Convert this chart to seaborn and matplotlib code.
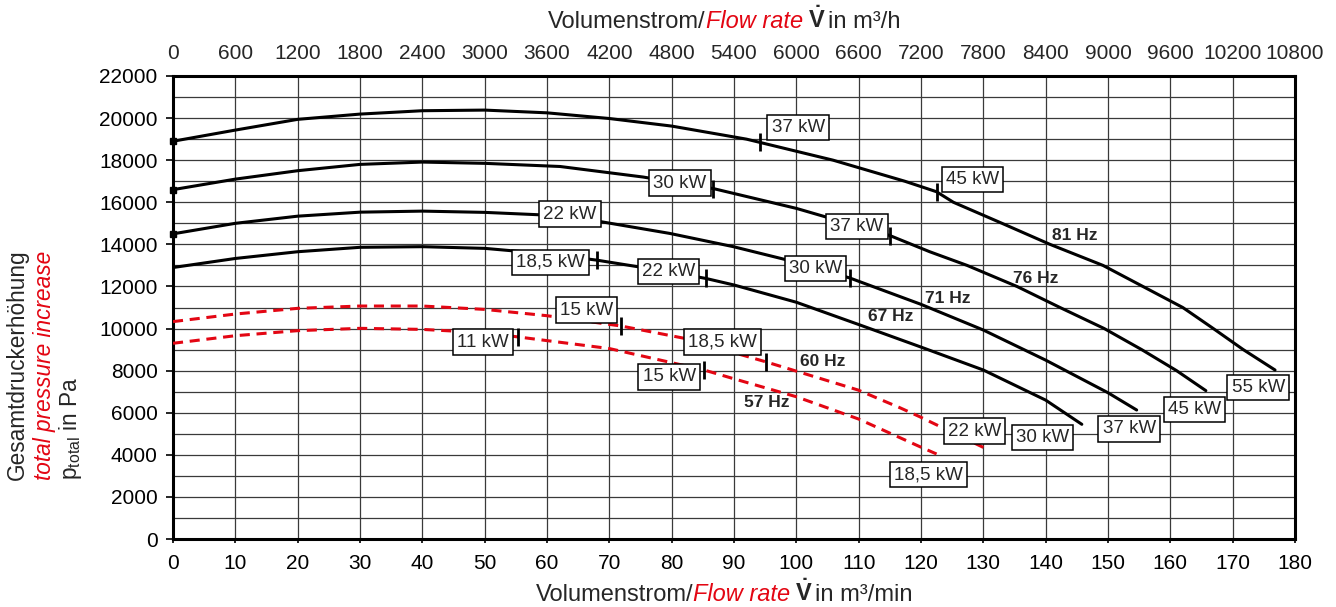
import numpy as np
import matplotlib
matplotlib.use('Agg')  # headless
import matplotlib.pyplot as plt
import seaborn as sns

RED = '#e30613'

# Kennlinien (x: Volumenstrom m3/min, y: Gesamtdruck Pa)
hz81_x = [0, 10, 20, 30, 40, 50, 60, 70, 80, 92, 105.9, 117.4, 122.5, 125.2, 133, 140.7,
          149.2, 155.6, 162, 166.9, 171.7, 176.8]
hz81_y = [18900, 19430, 19940, 20190, 20350, 20380, 20250, 19980, 19620, 19000, 18000, 17000,
          16500, 16000, 15000, 14000, 13000, 12000, 11000, 10000, 9000, 8030]

hz76_x = [0, 10, 20, 30, 40, 50, 62.1, 75.4, 86.7, 100, 115, 121.4, 127.4, 135.4, 142.3,
          149.4, 155.4, 161, 165.7]
hz76_y = [16600, 17100, 17500, 17800, 17910, 17850, 17700, 17200, 16650, 15710, 14420, 13650,
          13000, 12000, 11000, 10000, 9000, 8000, 7050]

hz71_x = [0, 10, 20, 30, 40, 50, 60, 68.8, 79.7, 89.9, 100, 108.6, 120, 130, 140, 150, 154.6]
hz71_y = [14500, 15000, 15340, 15530, 15580, 15520, 15390, 15070, 14520, 13890, 13150, 12400,
          11150, 9930, 8500, 6950, 6130]

hz67_x = [0, 10, 20, 30, 40, 50, 60, 68, 80, 85.5, 90, 100, 110.2, 120, 130, 140, 145.8]
hz67_y = [12900, 13330, 13650, 13860, 13890, 13810, 13550, 13250, 12680, 12380, 12070, 11250,
          10170, 9120, 8030, 6600, 5450]

hz60_x = [0, 10, 20, 30, 40, 50, 60, 71.9, 81.8, 95.1, 109.9, 116.6, 119.8, 130.3]
hz60_y = [10330, 10690, 10960, 11070, 11070, 10910, 10610, 10120, 9550, 8420, 7080, 6240,
          5810, 4310]

hz57_x = [0, 10, 20, 30, 40, 50, 55.4, 70, 85.2, 89.8, 100, 110, 119.8, 122.5]
hz57_y = [9300, 9660, 9900, 10010, 9960, 9800, 9600, 9050, 8030, 7630, 6760, 5700, 4390, 4040]

# motor power change points on each curve (x only)
ticks81 = [94.2, 122.5]
ticks76 = [86.7, 115]
ticks71 = [108.6]
ticks67 = [68, 85.5]
ticks60 = [71.9, 95.1]
ticks57 = [55.4, 85.2]

# power boxes: text, x, y (centre)
power_labels = [
    ("37 kW", 100.3, 19550), ("45 kW", 128.3, 17080), ("55 kW", 174.1, 7200),
    ("30 kW", 81.3, 16910), ("37 kW", 109.7, 14840), ("45 kW", 163.9, 6170),
    ("22 kW", 63.7, 15440), ("30 kW", 103.1, 12870), ("37 kW", 153.4, 5230),
    ("18,5 kW", 60.6, 13150), ("22 kW", 79.5, 12700), ("30 kW", 139.5, 4810),
    ("15 kW", 66.3, 10880), ("18,5 kW", 88.1, 9360), ("22 kW", 128.6, 5130),
    ("11 kW", 49.7, 9360), ("15 kW", 79.6, 7700), ("18,5 kW", 121.2, 3060),
]
# frequency labels
hz_labels = [
    ("81 Hz", 144.6, 14440), ("76 Hz", 138.4, 12380), ("71 Hz", 124.3, 11430),
    ("67 Hz", 115.2, 10560), ("60 Hz", 104.3, 8420), ("57 Hz", 95.3, 6510),
]

x_ticks = list(range(0, 181, 10))
y_ticks = list(range(0, 22001, 2000))
top_ticks = list(range(0, 10801, 600))

sns.set_theme(style='white')
plt.rcParams['font.family'] = ['Liberation Sans', 'DejaVu Sans']
plt.rcParams['mathtext.fontset'] = 'custom'
plt.rcParams['mathtext.rm'] = 'Liberation Sans'
plt.rcParams['mathtext.bf'] = 'Liberation Sans:bold'
plt.rcParams['mathtext.it'] = 'Liberation Sans:italic'

FS = 15
FS_TITLE = 17
FS_YLAB = 16.3
fig = plt.figure(figsize=(13.36, 6.07), dpi=100)
ax = fig.add_axes([0.1295, 0.112, 0.8398, 0.7628])

curves = [
    (hz81_x, hz81_y, ticks81, 'black', '-', True),
    (hz76_x, hz76_y, ticks76, 'black', '-', True),
    (hz71_x, hz71_y, ticks71, 'black', '-', True),
    (hz67_x, hz67_y, ticks67, 'black', '-', False),
    (hz60_x, hz60_y, ticks60, RED, (0, (3.3, 2.2)), False),
    (hz57_x, hz57_y, ticks57, RED, (0, (3.3, 2.2)), False),
]
for cx, cy, tks, col, ls, start_mark in curves:
    sns.lineplot(x=cx, y=cy, ax=ax, color=col, linewidth=2.2, linestyle=ls, zorder=3)
    ty = np.interp(tks, cx, cy)
    ax.plot(tks, ty, linestyle='none', marker='|', markersize=13, mew=2.0, color='black', zorder=4)
    if start_mark:
        ax.plot(cx[0], cy[0], marker='s', markersize=4, color='black', clip_on=False, zorder=5)

for txt, lx, ly in power_labels:
    ax.text(lx, ly, txt, ha='center', va='center', fontsize=13.5, zorder=6,
            bbox=dict(boxstyle='square,pad=0.22', fc='white', ec='black', lw=1.1))
for txt, lx, ly in hz_labels:
    ax.text(lx, ly, txt, ha='center', va='center', fontsize=12.5, fontweight='bold', zorder=6)

ax.set_xlim(0, 180)
ax.set_ylim(0, 22000)
ax.set_xticks(x_ticks)
ax.set_yticks(y_ticks)
ax.set_yticks(range(1000, 22000, 2000), minor=True)
ax.grid(True, which='both', color='#3a3a3a', linewidth=0.9)
ax.set_axisbelow(True)
ax.tick_params(axis='both', which='major', labelsize=FS, colors='black')
ax.tick_params(axis='y', which='major', left=True, length=5, width=1.2, pad=6)
ax.tick_params(axis='x', which='major', bottom=True, length=3, width=1.2, pad=8)
ax.tick_params(which='minor', length=0)
for sp in ax.spines.values():
    sp.set_visible(True)
    sp.set_color('black')
    sp.set_linewidth(2.2)

sec = ax.secondary_xaxis('top', functions=(lambda v: v * 60, lambda v: v / 60))
sec.set_xticks(top_ticks)
sec.tick_params(length=0, labelsize=FS, pad=9)
sec.spines['top'].set_visible(False)

# multi colour axis titles
renderer = fig.canvas.get_renderer()
W = fig.get_figwidth() * fig.dpi


def mixed_line(pieces, xc, yb):
    objs = []
    for s, kw, gap in pieces:
        t = fig.text(0, yb, s, ha='left', va='baseline', fontsize=FS_TITLE, **kw)
        objs.append((t, gap))
    widths = [t.get_window_extent(renderer).width + g for t, g in objs]
    x0 = xc * W - sum(widths) / 2
    for (t, g), w in zip(objs, widths):
        t.set_x(x0 / W)
        x0 += w


def title_pieces(unit):
    return [
        ("Volumenstrom/", {}, 0),
        ("Flow rate", dict(color=RED, style='italic'), 5),
        (r"$\mathbf{\dot{V}}$", {}, 2),
        ("in " + unit, {}, 0),
    ]


mixed_line(title_pieces("m³/h"), 0.542, 0.9534)
mixed_line(title_pieces("m³/min"), 0.542, 0.0105)

fig.text(0.013, 0.209, "Gesamtdruckerhöhung", rotation=90, ha='center', va='bottom', fontsize=FS_YLAB)
fig.text(0.0335, 0.209, "total pressure increase", rotation=90, ha='center', va='bottom',
         fontsize=FS_YLAB, color=RED, style='italic')
fig.text(0.0525, 0.209, r"p$_{\mathrm{total}}$ in Pa", rotation=90, ha='center', va='bottom',
         fontsize=FS_YLAB)

fig.savefig('out.png', dpi=100)
plt.close(fig)
